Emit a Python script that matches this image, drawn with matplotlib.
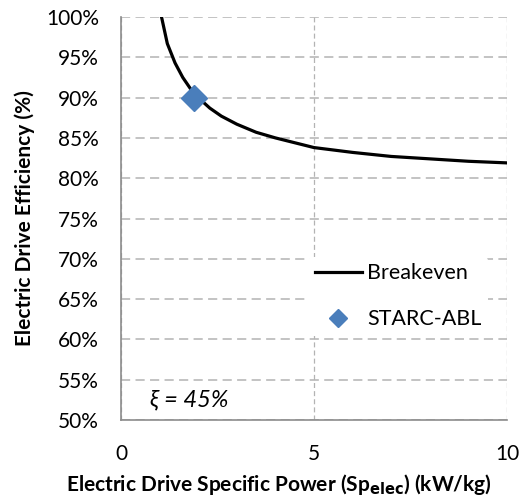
import matplotlib
matplotlib.use("Agg")
import matplotlib.pyplot as plt
from matplotlib.ticker import FuncFormatter

# data
sp_breakeven = [1.05, 1.2, 1.4, 1.6, 1.8, 2.0, 2.3, 2.6, 3.0, 3.5, 4.0, 4.5, 5.0, 6.0, 7.0, 8.0, 9.0, 10.0]
eff_breakeven = [100.0, 96.7, 94.3, 92.5, 91.1, 90.0, 88.7, 87.7, 86.7, 85.7, 85.0, 84.4, 83.8, 83.2, 82.7, 82.4, 82.1, 81.9]
sp_starc = [1.88]
eff_starc = [90.0]
y_ticks = [50, 55, 60, 65, 70, 75, 80, 85, 90, 95, 100]
x_ticks = [0, 5, 10]

plt.rcParams['font.family'] = ['Lato', 'DejaVu Sans']

fig = plt.figure(figsize=(5.26, 5.0), dpi=100)
ax = fig.add_axes([121 / 526, 1 - 420 / 500, (507 - 121) / 526, (420 - 17) / 500])

ax.plot(sp_breakeven, eff_breakeven, color="black", lw=2.3, label="Breakeven", zorder=3)
ax.plot(sp_starc, eff_starc, ls="none", marker="D", ms=13, color="#4a7ebb",
        label="STARC-ABL", zorder=4)

ax.set_xlim(0, 10)
ax.set_ylim(50, 100)
ax.set_xticks(x_ticks)
ax.set_yticks(y_ticks)
ax.yaxis.set_major_formatter(FuncFormatter(lambda v, p: f"{v:.0f}%"))
ax.tick_params(length=0, labelsize=15, colors="black")
ax.tick_params(axis="x", pad=17.5)
ax.tick_params(axis="y", pad=16)

ax.yaxis.grid(True, color="#b3b3b3", ls=(0, (6, 3.5)), lw=1.1)
ax.xaxis.grid(True, color="#b3b3b3", ls=(0, (4, 2.5)), lw=0.9)
for s in ["top", "right"]:
    ax.spines[s].set_visible(False)
for s in ["left", "bottom"]:
    ax.spines[s].set_color("#8c8c8c")
    ax.spines[s].set_linewidth(1.2)
ax.set_axisbelow(True)

ax.set_xlabel(r"Electric Drive Specific Power (Sp$_{\mathbf{elec}}$) (kW/kg)",
              fontsize=15, fontweight="bold")
ax.xaxis.set_label_coords(0.41, -0.13)
ax.set_ylabel("Electric Drive Efficiency (%)", fontsize=15, fontweight="bold", labelpad=8)

ax.text(0.75, 51.7, "ξ = 45%", fontsize=17, style="italic")

leg = ax.legend(loc="upper left", bbox_to_anchor=(0.485, 0.405), frameon=True,
                fontsize=15.5, handlelength=2.2, handletextpad=0.25, labelspacing=1.2,
                borderpad=0.3, borderaxespad=0, markerscale=0.68)
leg.get_frame().set_edgecolor("none")
leg.get_frame().set_facecolor("white")
leg.get_frame().set_alpha(1)

fig.savefig("out.png", dpi=100)
